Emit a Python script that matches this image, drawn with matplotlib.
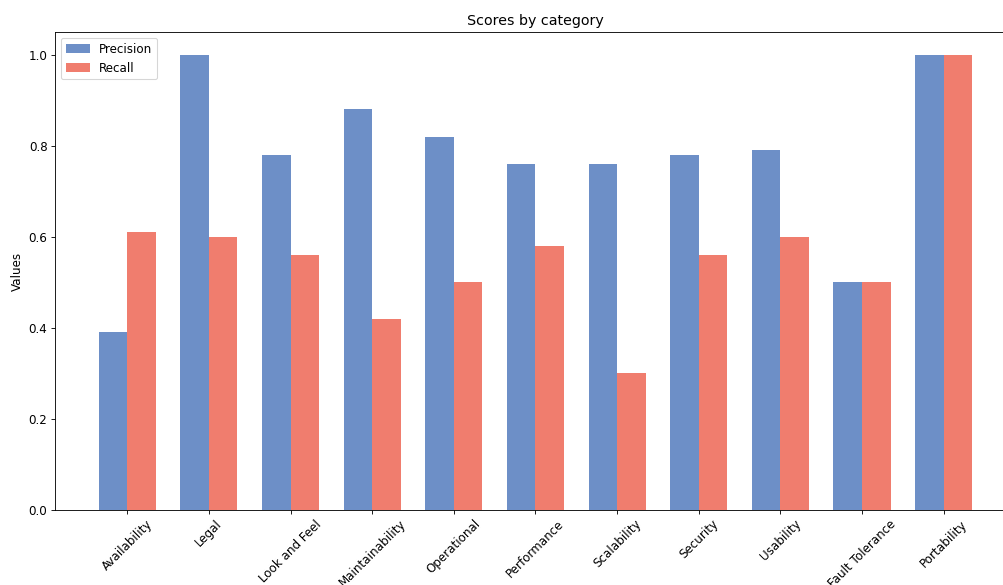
import matplotlib
matplotlib.use("Agg")
import matplotlib.pyplot as plt
import numpy as np

categories = ["Availability", "Legal", "Look and Feel", "Maintainability", "Operational",
              "Performance", "Scalability", "Security", "Usability", "Fault Tolerance",
              "Portability"]
precision = [0.39, 1.00, 0.78, 0.88, 0.82, 0.76, 0.76, 0.78, 0.79, 0.50, 1.00]
recall = [0.61, 0.60, 0.56, 0.42, 0.50, 0.58, 0.30, 0.56, 0.60, 0.50, 1.00]

plt.rcParams["font.size"] = 11

x = np.arange(len(categories))
width = 0.35

fig = plt.figure(figsize=(12.86, 7.5), dpi=78)
ax = fig.add_axes([0.0548, 0.1282, 0.958, 0.8171])

ax.bar(x - width / 2, precision, width, label="Precision", color="#6d8fc7")
ax.bar(x + width / 2, recall, width, label="Recall", color="#f07d6e")

ax.set_ylabel("Values")
ax.set_title("Scores by category")
ax.set_xticks(x)
ax.set_xticklabels(categories, rotation=45)
ax.legend(loc="upper left")

fig.savefig("out.png", dpi=78)
